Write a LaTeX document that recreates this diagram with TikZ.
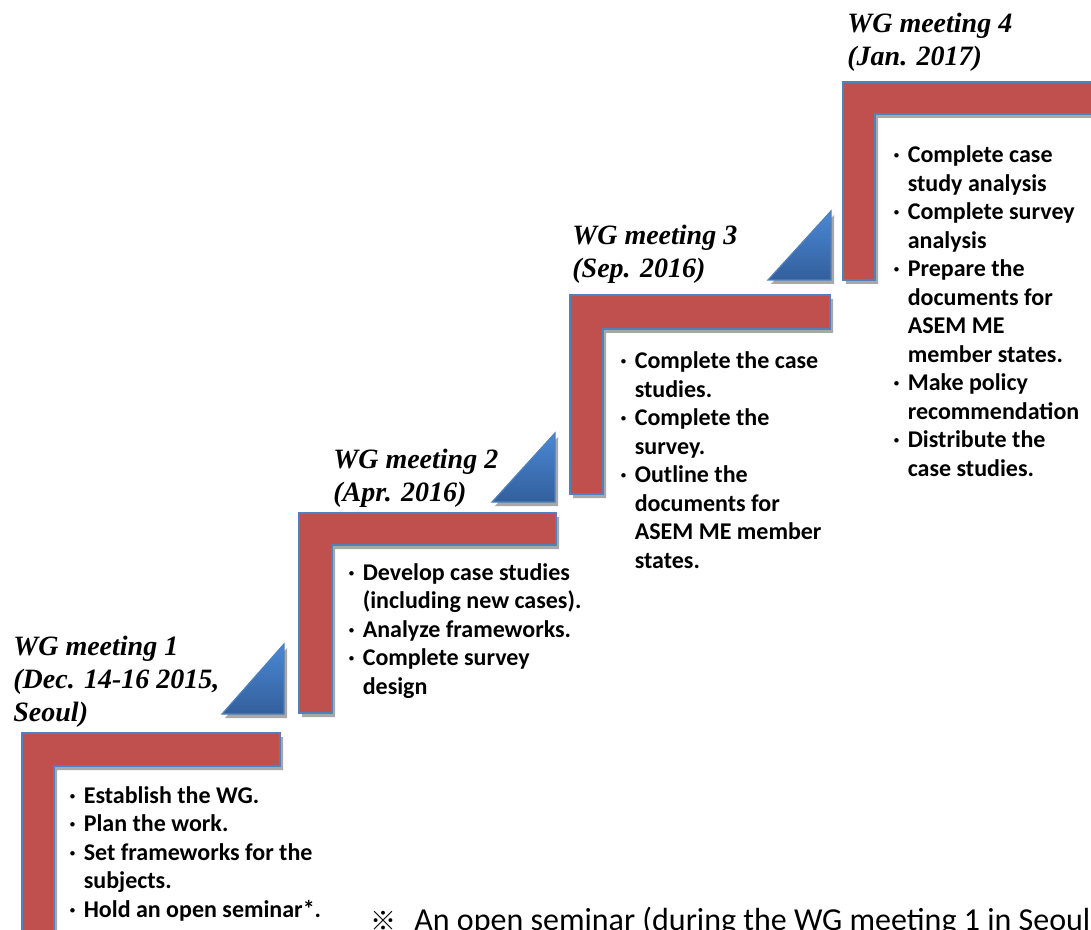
\documentclass[tikz,border=0pt]{standalone}
\usepackage{fontspec}
\setmainfont{Liberation Serif}
\newfontfamily\calibri{Carlito}
\newfontfamily\cjk{Noto Sans CJK SC}
\definecolor{stepred}{HTML}{C0504D}
\definecolor{stepblue}{HTML}{4F81BD}
\definecolor{tritop}{HTML}{4A88D4}
\definecolor{tribot}{HTML}{335F9C}
\definecolor{shadowgray}{HTML}{A8A8A8}
\newcommand{\dotitem}{\makebox[0.6em][l]{·}}
\newcommand{\dotgap}{\hspace*{0.6em}}

\begin{document}
\begin{tikzpicture}[x=0.5pt,y=-0.5pt,
  stair/.style={fill=stepred,draw=stepblue,line width=1pt},
  flatshadow/.style={fill=shadowgray,shift={(3,4)}},
  ramp/.style={top color=tritop,bottom color=tribot,draw=stepblue,line width=0.6pt},
  title/.style={font=\fontsize{14}{16.5}\selectfont\bfseries\itshape,align=left,inner sep=0pt,anchor=base west},
  items/.style={font=\calibri\fontsize{12}{14.25}\selectfont\bfseries,align=left,inner sep=0pt,anchor=base west}]
\useasboundingbox (0,0) rectangle (1091,930);
\clip (0,0) rectangle (1091,930);
% shadows
\fill[flatshadow] (22,733) -- (280,733) -- (280,766) -- (54,766) -- (54,945) -- (22,945) -- cycle;
\fill[flatshadow] (299,513) -- (556,513) -- (556,545) -- (332,545) -- (332,713) -- (299,713) -- cycle;
\fill[flatshadow] (570,295) -- (830,295) -- (830,329) -- (603,329) -- (603,494) -- (570,494) -- cycle;
\fill[flatshadow] (843,82) -- (1100,82) -- (1100,114) -- (875,114) -- (875,280) -- (843,280) -- cycle;
\fill[flatshadow] (222,714) -- (284,644) -- (284,714) -- cycle;
\fill[flatshadow] (492,502) -- (555,433) -- (555,502) -- cycle;
\fill[flatshadow] (768,280) -- (831,211) -- (831,280) -- cycle;
% steps
\filldraw[stair] (22,733) -- (280,733) -- (280,766) -- (54,766) -- (54,945) -- (22,945) -- cycle;
\filldraw[stair] (299,513) -- (556,513) -- (556,545) -- (332,545) -- (332,713) -- (299,713) -- cycle;
\filldraw[stair] (570,295) -- (830,295) -- (830,329) -- (603,329) -- (603,494) -- (570,494) -- cycle;
\filldraw[stair] (843,82) -- (1100,82) -- (1100,114) -- (875,114) -- (875,280) -- (843,280) -- cycle;
% ramps
\shadedraw[ramp] (222,714) -- (284,644) -- (284,714) -- cycle;
\shadedraw[ramp] (492,502) -- (555,433) -- (555,502) -- cycle;
\shadedraw[ramp] (768,280) -- (831,211) -- (831,280) -- cycle;
% meetings (anchored on last line)
\node[title] (title1) at (13,721) {WG meeting 1\\(Dec. 14-16 2015,\\Seoul)};
\node[title] (title2) at (333,501) {WG meeting 2\\(Apr. 2016)};
\node[title] (title3) at (572,278) {WG meeting 3\\(Sep. 2016)};
\node[title] (title4) at (847,66) {WG meeting 4\\(Jan. 2017)};
% tasks
\node[items] (tasks1) at (69,917) {\dotitem Establish the WG.\\\dotitem Plan the work.\\\dotitem Set frameworks for the\\\dotgap subjects.\\\dotitem Hold an open seminar*.};
\node[items] (tasks2) at (348,694) {\dotitem Develop case studies\\\dotgap (including new cases).\\\dotitem Analyze frameworks.\\\dotitem Complete survey\\\dotgap design};
\node[items] (tasks3) at (620,568) {\dotitem Complete the case\\\dotgap studies.\\\dotitem Complete the\\\dotgap survey.\\\dotitem Outline the\\\dotgap documents for\\\dotgap ASEM ME member\\\dotgap states.};
\node[items] (tasks4) at (893,476) {\dotitem Complete case\\\dotgap study analysis\\\dotitem Complete survey\\\dotgap analysis\\\dotitem Prepare the\\\dotgap documents for\\\dotgap ASEM ME\\\dotgap member states.\\\dotitem Make policy\\\dotgap recommendation\\\dotitem Distribute the\\\dotgap case studies.};
% note
\node[font=\calibri\fontsize{16}{18}\selectfont,inner sep=0pt,anchor=base west] (note) at (370,930) {{\cjk\fontsize{13}{13}\selectfont ※}\hspace{9pt}An open seminar (during the WG meeting 1 in Seoul};
\end{tikzpicture}
\end{document}
